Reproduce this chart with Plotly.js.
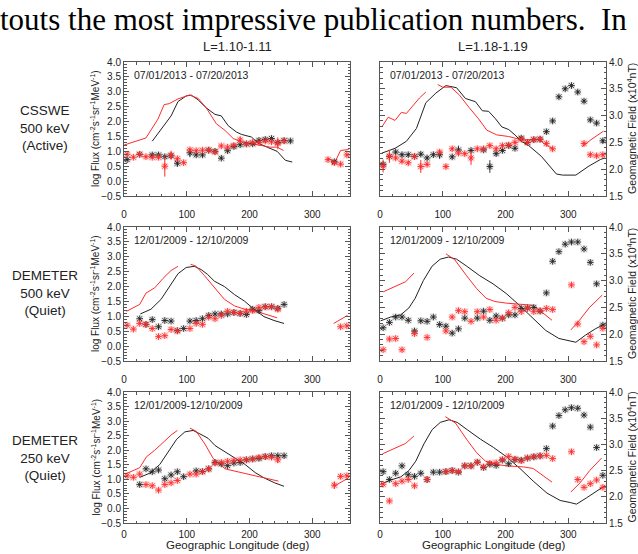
<!DOCTYPE html>
<html><head><meta charset="utf-8">
<script src="https://cdn.plot.ly/plotly-3.0.1.min.js"></script>
<style>html,body{margin:0;padding:0;background:#fff}#c{width:638px;height:554px}</style>
</head><body><div id="c"></div>
<script>
// ---------- Data ----------
const colTitles = ["L=1.10-1.11", "L=1.18-1.19"];
const rowLabels = ["CSSWE<br>500 keV<br>(Active)", "DEMETER<br>500 keV<br>(Quiet)", "DEMETER<br>250 keV<br>(Quiet)"];
const dateLabels = ["07/01/2013 - 07/20/2013", "07/01/2013 - 07/20/2013",
  "12/01/2009 - 12/10/2009", "12/01/2009 - 12/10/2009",
  "12/01/2009-12/10/2009", "12/01/2009 - 12/10/2009"];
const xTickVals = [0, 100, 200, 300];

// Panel 1 (CSSWE, L=1.10-1.11)
const p1FieldLon = [45,56,75,86,99,107,118,131,145,155,166,179,187,203,214,228,244,257,268];
const p1FieldVal = [1.34,1.65,2.19,2.67,2.86,2.89,2.73,2.46,2.24,2.19,1.86,1.65,1.57,1.48,1.27,1.14,1.0,0.70,0.64];
const p1RedLineLon = [0,35,54,64,72,86,104,118,131,147,161,174,187,201,217,233,244,254,290,324,336,345,358];
const p1RedLineVal = [1.21,1.45,2.08,2.57,2.60,2.76,2.89,2.78,2.46,1.93,1.70,1.43,1.32,1.27,1.21,1.14,1.14,1.03,null,0.78,0.64,1.03,1.06];
const p1BlackLon = [5,25,45,55,65,75,85,105,115,125,135,145,155,165,175,185,195,205,215,225,235,245,255,265,335];
const p1BlackVal = [0.72,0.90,0.88,0.88,0.82,0.85,0.60,0.95,0.88,0.88,1.04,1.00,0.77,1.02,1.16,1.22,1.25,1.25,1.37,1.40,1.43,1.30,1.36,1.35,0.65];
const p1BlackErr = [0.04,0.04,0.04,0.04,0.04,0.04,0.12,0.15,0.04,0.04,0.04,0.04,0.04,0.04,0.04,0.04,0.04,0.04,0.04,0.04,0.04,0.04,0.04,0.04,0.04];
const p1RedLon = [5,15,25,35,45,55,65,75,85,95,105,115,125,135,145,155,165,175,185,195,205,215,225,235,245,255,325,335,345,355];
const p1RedVal = [0.90,0.80,0.90,0.82,0.80,0.80,0.50,0.87,0.75,0.62,1.05,1.02,1.04,1.04,0.98,1.18,1.14,1.20,1.38,1.25,1.30,1.30,1.35,1.32,1.27,1.35,0.72,0.62,0.57,0.88];
const p1RedErr = [0.04,0.04,0.04,0.04,0.04,0.04,0.35,0.15,0.04,0.04,0.04,0.04,0.04,0.04,0.04,0.04,0.04,0.04,0.12,0.04,0.04,0.04,0.04,0.04,0.2,0.04,0.04,0.04,0.04,0.04];

// Panel 2 (CSSWE, L=1.18-1.19)
const p2FieldLon = [3,24,42,58,73,89,105,122,136,152,163,173,184,194,205,215,225,236,257,270,281,291,312,333,351,358];
const p2FieldVal = [2.30,2.39,2.52,2.76,3.24,3.42,3.56,3.52,3.32,3.26,3.09,3.08,2.94,2.79,2.74,2.64,2.52,2.45,2.24,2.06,1.91,1.89,1.89,2.06,2.18,2.21];
const p2RedLineLon = [3,13,24,34,42,52,63,73,83,92,100,113,126,142,157,170,186,205,225,241,254,262,275,300,322,336,356];
const p2RedLineVal = [2.79,2.97,2.91,3.06,3.04,3.18,3.33,3.44,null,3.58,3.53,3.53,3.39,3.15,2.94,2.73,2.64,2.61,2.55,2.55,2.55,2.47,2.38,null,2.42,2.55,2.71];
const p2BlackLon = [5,15,25,35,45,55,65,75,85,95,115,125,145,165,175,185,195,205,215,225,235,245,255,265,275,285,295,305,315,325,335,345,355];
const p2BlackVal = [2.09,2.24,2.32,2.27,2.27,2.24,2.28,2.21,2.27,2.27,2.23,2.36,2.35,2.36,2.05,2.29,2.35,2.44,2.39,2.58,2.50,2.55,2.56,2.70,2.90,3.35,3.50,3.56,3.44,3.27,2.92,2.86,2.53];
const p2BlackErr = [0.03,0.03,0.03,0.03,0.03,0.03,0.03,0.03,0.03,0.08,0.03,0.08,0.03,0.03,0.12,0.03,0.03,0.03,0.03,0.03,0.03,0.03,0.03,0.03,0.03,0.03,0.03,0.03,0.03,0.03,0.03,0.03,0.03];
const p2RedLon = [5,15,25,35,45,55,65,75,95,105,115,125,135,145,155,165,175,185,195,205,215,225,235,245,255,265,275,325,335,345,355];
const p2RedVal = [2.06,2.24,2.21,2.15,2.12,2.24,2.05,2.09,2.32,2.05,2.38,2.30,2.29,2.21,2.38,2.38,2.44,2.38,2.44,2.45,2.50,2.56,2.50,2.55,2.56,2.48,2.38,2.48,2.27,2.25,2.27];
const p2RedErr = [0.12,0.12,0.03,0.03,0.03,0.03,0.12,0.03,0.03,0.03,0.03,0.03,0.03,0.13,0.03,0.03,0.03,0.03,0.03,0.03,0.03,0.03,0.03,0.03,0.03,0.03,0.03,0.03,0.03,0.03,0.03];

// Panel 3 (DEMETER 500 keV, L=1.10-1.11)
const p3FieldLon = [26,43,59,72,86,99,112,123,133,144,160,176,192,207,223,239,255];
const p3FieldVal = [1.08,1.24,1.57,2.0,2.43,2.64,2.68,2.57,2.41,2.18,2.0,1.73,1.51,1.24,0.99,0.86,0.76];
const p3RedLineLon = [4,25,35,49,62,75,86,96,106,115,128,144,160,176,192,207,223,244,290,334,356];
const p3RedLineVal = [1.17,1.40,1.78,1.96,2.27,2.54,2.68,null,2.75,2.68,2.37,1.96,1.57,1.35,1.24,1.19,1.08,0.95,null,0.76,1.03];
const p3BlackLon = [25,35,45,55,65,75,85,95,105,115,125,135,145,155,165,175,185,195,205,215,225,235,245,255];
const p3BlackVal = [0.92,0.73,0.89,0.65,0.86,0.84,0.52,0.59,0.84,0.86,0.92,1.03,1.08,1.08,1.08,1.13,1.10,1.06,1.24,1.19,1.32,1.32,1.27,1.40];
const p3RedLon = [5,15,25,35,45,55,65,75,85,105,115,125,135,145,155,165,175,185,195,205,215,225,235,245,345,355];
const p3RedVal = [0.70,0.57,0.76,0.73,0.59,0.32,0.35,0.56,0.51,0.59,0.76,0.73,0.97,0.92,1.03,1.17,1.13,1.10,1.17,1.19,1.30,1.32,1.32,1.24,0.65,0.68];
const p3RedErr = [0,0,0,0,0,0,0,0,0,0,0,0,0,0,0,0,0,0,0,0,0,0,0,0.08,0,0];

// Panel 4 (DEMETER 500 keV, L=1.18-1.19)
const p4FieldLon = [1,17,33,46,56,69,83,96,109,122,138,159,180,201,222,243,264,285,301,312,327,343,358];
const p4FieldVal = [2.25,2.32,2.36,2.49,2.67,3.0,3.27,3.40,3.44,3.40,3.27,3.09,2.94,2.76,2.54,2.30,2.07,1.92,1.87,1.85,1.98,2.10,2.19];
const p4RedLineLon = [5,27,41,54,80,105,119,138,154,169,183,201,227,243,259,274,290,304,317,333,354];
const p4RedLineVal = [2.79,2.91,2.98,3.14,null,3.50,3.39,3.09,2.85,2.67,2.61,2.58,2.56,2.54,2.40,2.26,null,2.08,2.25,2.49,2.73];
const p4BlackLon = [5,15,25,35,45,55,65,75,85,95,105,115,125,135,155,165,175,185,195,205,215,225,235,245,255,265,275,285,295,305,315,325,335,345,355];
const p4BlackVal = [2.12,2.22,2.32,2.32,2.26,2.06,2.25,2.24,2.32,2.18,2.15,2.02,2.10,2.30,2.30,2.43,2.26,2.34,2.30,2.36,2.36,2.48,2.49,2.50,2.43,2.77,3.36,3.54,3.68,3.72,3.72,3.59,3.34,2.94,2.17];
const p4RedLon = [5,15,25,35,55,75,105,115,125,135,145,155,165,175,185,195,205,215,225,235,245,255,265,275,305,315,325,335,345,355];
const p4RedVal = [1.71,1.91,1.92,1.71,2.01,1.94,2.06,2.32,2.44,2.42,2.24,2.42,2.32,2.46,2.26,2.30,2.40,2.50,2.42,2.48,2.42,2.44,2.48,2.46,2.92,2.19,1.86,1.96,1.80,2.11];

// Panel 5 (DEMETER 250 keV, L=1.10-1.11)
const p5FieldLon = [25,41,57,70,84,97,110,121,134,145,161,177,193,209,224,240,255];
const p5FieldVal = [1.07,1.21,1.51,1.94,2.38,2.63,2.68,2.56,2.41,2.16,1.94,1.72,1.51,1.23,1.04,0.88,0.76];
const p5RedLineLon = [2,25,36,49,65,76,85,95,105,115,129,142,161,177,193,209,224,246,290,336,357];
const p5RedLineVal = [1.18,1.40,1.78,2.0,2.32,2.54,2.68,null,2.76,2.65,2.21,1.72,1.36,1.29,1.20,1.12,1.04,0.94,null,0.78,1.04];
const p5BlackLon = [25,35,45,55,65,75,85,95,115,125,135,145,155,165,175,185,195,205,215,225,235,245,255];
const p5BlackVal = [0.82,1.36,1.26,1.32,1.02,1.15,1.26,1.09,1.29,1.27,1.36,1.58,1.53,1.47,1.56,1.58,1.67,1.70,1.72,1.78,1.81,1.81,1.81];
const p5RedLon = [5,15,25,35,45,55,65,75,85,105,115,125,135,145,155,165,175,185,195,205,215,225,235,245,335,345,355];
const p5RedVal = [1.12,1.07,1.18,0.82,0.78,0.63,0.82,0.88,0.96,1.18,1.18,1.26,1.36,1.56,1.58,1.62,1.65,1.67,1.67,1.70,1.75,1.78,1.76,1.67,0.80,1.10,1.12];
const p5RedErr = [0,0,0,0,0,0,0,0,0,0,0,0,0,0,0,0,0,0,0,0,0,0,0,0.1,0.13,0,0];

// Panel 6 (DEMETER 250 keV, L=1.18-1.19)
const p6FieldLon = [1,17,33,46,57,70,83,96,110,123,139,160,181,202,223,244,266,287,303,313,329,345,358];
const p6FieldVal = [2.24,2.32,2.38,2.50,2.68,3.01,3.28,3.42,3.47,3.42,3.28,3.10,2.94,2.76,2.54,2.30,2.07,1.93,1.89,1.86,1.98,2.10,2.21];
const p6RedLineLon = [4,28,41,54,80,104,120,139,154,168,184,202,229,244,260,274,290,304,319,334,353];
const p6RedLineVal = [2.82,2.95,3.02,3.16,null,3.53,3.41,3.08,2.84,2.68,2.62,2.59,2.57,2.54,2.41,2.28,null,2.09,2.27,2.50,2.74];
const p6BlackLon = [5,15,25,35,45,55,65,75,85,95,105,115,125,135,145,155,165,175,185,195,205,215,225,235,245,255,265,275,285,295,305,315,325,335,345,355];
const p6BlackVal = [2.48,2.33,2.45,2.59,2.42,2.39,2.45,2.33,2.47,2.47,2.48,2.50,2.47,2.59,2.59,2.66,2.56,2.62,2.60,2.70,2.63,2.71,2.70,2.74,2.76,2.78,2.92,3.35,3.55,3.66,3.70,3.69,3.56,3.33,2.94,2.41];
const p6RedLon = [5,15,25,35,45,55,75,105,115,125,135,145,155,165,175,185,195,205,215,225,235,245,255,265,275,305,315,325,335,345,355];
const p6RedVal = [2.24,1.92,2.25,2.30,2.33,2.21,2.33,2.48,2.50,2.48,2.59,2.59,2.66,2.57,2.64,2.65,2.71,2.77,2.72,2.69,2.74,2.77,2.78,2.79,2.73,2.86,2.33,2.18,2.25,2.32,2.18];

// ---------- Build ----------
const W = 638, H = 554;
const px = x => x / W, py = y => 1 - y / H;
const colX = [[124, 350], [380, 606]];
const rowY = [[62, 196], [227, 361], [392, 523]];
const FONT = "Liberation Sans, Arial, Helvetica, sans-serif";
const AX = "#555", TXT = "#222", RED = "#ff2a2a", BLK = "#222";

const panels = [
  {f:[p1FieldLon,p1FieldVal], r:[p1RedLineLon,p1RedLineVal], b:[p1BlackLon,p1BlackVal,p1BlackErr], s:[p1RedLon,p1RedVal,p1RedErr]},
  {f:[p2FieldLon,p2FieldVal], r:[p2RedLineLon,p2RedLineVal], b:[p2BlackLon,p2BlackVal,p2BlackErr], s:[p2RedLon,p2RedVal,p2RedErr]},
  {f:[p3FieldLon,p3FieldVal], r:[p3RedLineLon,p3RedLineVal], b:[p3BlackLon,p3BlackVal,null], s:[p3RedLon,p3RedVal,p3RedErr]},
  {f:[p4FieldLon,p4FieldVal], r:[p4RedLineLon,p4RedLineVal], b:[p4BlackLon,p4BlackVal,null], s:[p4RedLon,p4RedVal,null]},
  {f:[p5FieldLon,p5FieldVal], r:[p5RedLineLon,p5RedLineVal], b:[p5BlackLon,p5BlackVal,null], s:[p5RedLon,p5RedVal,p5RedErr]},
  {f:[p6FieldLon,p6FieldVal], r:[p6RedLineLon,p6RedLineVal], b:[p6BlackLon,p6BlackVal,null], s:[p6RedLon,p6RedVal,null]},
];

const traces = [];
const layout = {
  width: W, height: H, margin: {l:0, r:0, t:0, b:0},
  paper_bgcolor: "#fff", plot_bgcolor: "#fff", showlegend: false,
  font: {family: FONT, color: TXT}, annotations: []
};

panels.forEach((p, i) => {
  const n = i + 1, row = Math.floor(i / 2), col = i % 2;
  const xa = "x" + n, ya = "y" + n;
  const halo = (c) => ({type:"scatter", mode:"markers", xaxis:xa, yaxis:ya, hoverinfo:"skip",
    marker:{symbol:"square", size:7, color:c, line:{width:0}}});
  traces.push(Object.assign(halo("rgba(160,160,160,0.28)"), {x:p.b[0], y:p.b[1]}));
  traces.push(Object.assign(halo("rgba(255,130,130,0.25)"), {x:p.s[0], y:p.s[1]}));
  traces.push({type:"scatter", mode:"lines", x:p.f[0], y:p.f[1], xaxis:xa, yaxis:ya,
    line:{color:BLK, width:1}, hoverinfo:"skip"});
  traces.push({type:"scatter", mode:"lines", x:p.r[0], y:p.r[1], xaxis:xa, yaxis:ya, connectgaps:false,
    line:{color:RED, width:1}, hoverinfo:"skip"});
  const bt = {type:"scatter", mode:"markers", x:p.b[0], y:p.b[1], xaxis:xa, yaxis:ya,
    marker:{symbol:"asterisk-open", size:5.5, color:BLK, line:{color:BLK, width:0.9}}, hoverinfo:"skip"};
  if (p.b[2]) bt.error_y = {type:"data", array:p.b[2], visible:true, thickness:1, width:0, color:"#444"};
  traces.push(bt);
  const rt = {type:"scatter", mode:"markers", x:p.s[0], y:p.s[1], xaxis:xa, yaxis:ya,
    marker:{symbol:"asterisk-open", size:5.5, color:RED, line:{color:RED, width:0.9}}, hoverinfo:"skip"};
  if (p.s[2]) rt.error_y = {type:"data", array:p.s[2], visible:true, thickness:1, width:0, color:RED};
  traces.push(rt);

  const tf = {family: FONT, size: 10, color: TXT};
  layout["xaxis" + n] = {
    domain:[px(colX[col][0]), px(colX[col][1])], anchor: ya, range:[0,360],
    tickmode:"array", tickvals:xTickVals, ticktext:xTickVals.map(String),
    ticks:"inside", ticklen:5, tickcolor:AX, showline:true, linecolor:AX, linewidth:1, mirror:"ticks",
    minor:{tickmode:"linear", tick0:0, dtick:20, ticks:"inside", ticklen:2.5, tickcolor:AX},
    showgrid:false, zeroline:false, tickfont:tf, ticklabelstandoff: row === 2 ? 2 : 9, fixedrange:true
  };
  const left = col === 0;
  layout["yaxis" + n] = {
    domain:[py(rowY[row][1]), py(rowY[row][0])], anchor: xa,
    range: left ? [-0.5, 4.0] : [1.5, 4.0], side: left ? "left" : "right",
    tickmode:"linear", tick0:0, dtick:0.5, tickformat:".1f",
    ticks:"inside", ticklen:5, tickcolor:AX, showline:true, linecolor:AX, linewidth:1, mirror:"ticks",
    minor:{tickmode:"linear", tick0:0, dtick:0.1, ticks:"inside", ticklen:2.5, tickcolor:AX},
    showgrid:false, zeroline:false, tickfont:tf, fixedrange:true
  };
  layout.annotations.push({xref:"paper", yref:"paper", x:px(colX[col][0] + 8), y:py(rowY[row][0] + 13),
    xanchor:"left", yanchor:"middle", showarrow:false, text:dateLabels[i],
    font:{family:FONT, size:10.5, color:TXT}});
});

// column titles
colTitles.forEach((t, c) => layout.annotations.push({xref:"paper", yref:"paper",
  x:px((colX[c][0] + colX[c][1]) / 2), y:py(47), xanchor:"center", yanchor:"middle", showarrow:false,
  text:t, font:{family:FONT, size:13, color:TXT}}));
// row labels
rowLabels.forEach((t, r) => layout.annotations.push({xref:"paper", yref:"paper",
  x:px(45), y:py(128 + 165 * r), xanchor:"center", yanchor:"middle", showarrow:false, align:"center",
  text:t, font:{family:FONT, size:13.5, color:TXT}}));
// y-axis titles
[0,1,2].forEach(r => {
  const yc = (rowY[r][0] + rowY[r][1]) / 2;
  layout.annotations.push({xref:"paper", yref:"paper", x:px(95), y:py(yc), xanchor:"center", yanchor:"middle",
    textangle:-90, showarrow:false, text:"log Flux (cm<sup>-2</sup>s<sup>-1</sup>sr<sup>-1</sup>MeV<sup>-1</sup>)",
    font:{family:FONT, size:10, color:TXT}});
  layout.annotations.push({xref:"paper", yref:"paper", x:px(631), y:py(yc), xanchor:"center", yanchor:"middle",
    textangle:-90, showarrow:false, text:"Geomagnetic Field (x10<sup>4</sup>nT)",
    font:{family:FONT, size:10.5, color:TXT}});
});
// x-axis titles
[0,1].forEach(c => layout.annotations.push({xref:"paper", yref:"paper",
  x:px((colX[c][0] + colX[c][1]) / 2), y:py(545), xanchor:"center", yanchor:"middle", showarrow:false,
  text:"Geographic Longitude (deg)", font:{family:FONT, size:11.5, color:TXT}}));
// top text line
layout.annotations.push({xref:"paper", yref:"paper", x:px(-2), y:py(20), xanchor:"left", yanchor:"middle",
  showarrow:false, text:"touts the most impressive publication numbers.  In",
  font:{family:"Liberation Serif, Times New Roman, serif", size:31, color:"#000"}});

Plotly.newPlot("c", traces, layout, {staticPlot:true, displayModeBar:false});
</script></body></html>
